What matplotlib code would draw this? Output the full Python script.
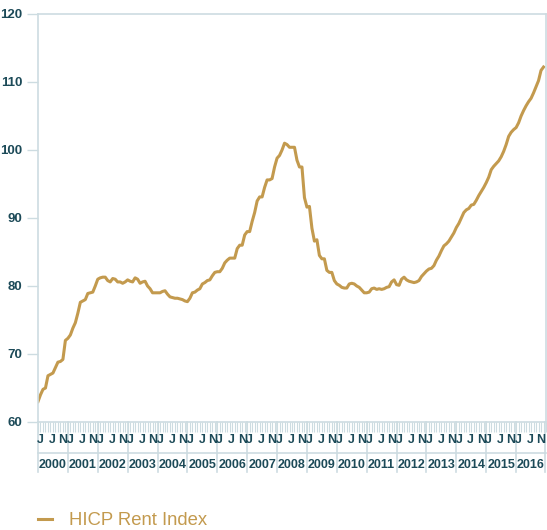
import numpy as np
import matplotlib.pyplot as plt
import matplotlib.transforms as mtransforms

plt.rcParams['font.family'] = ['Liberation Sans', 'DejaVu Sans']

years = list(range(2000, 2017))
month_letters = ['J', 'J', 'N']
month_letter_pos = [1.0, 5.8, 10.0]

# HICP rent index, monthly, Jan 2000 - Dec 2016
rent_2000 = [63.0, 64.0, 64.8, 65.0, 66.8, 67.0, 67.2, 68.0, 68.8, 68.9, 69.2, 72.0]
rent_2001 = [72.3, 72.8, 73.8, 74.6, 76.0, 77.6, 77.8, 78.0, 78.9, 79.0, 79.1, 80.0]
rent_2002 = [81.0, 81.2, 81.3, 81.3, 80.8, 80.6, 81.1, 81.0, 80.6, 80.6, 80.4, 80.6]
rent_2003 = [80.9, 80.7, 80.6, 81.2, 81.0, 80.4, 80.6, 80.7, 80.0, 79.6, 79.0, 79.0]
rent_2004 = [79.0, 79.0, 79.2, 79.3, 78.8, 78.4, 78.3, 78.2, 78.2, 78.1, 78.0, 77.8]
rent_2005 = [77.7, 78.2, 79.0, 79.1, 79.4, 79.6, 80.3, 80.5, 80.8, 80.9, 81.5, 82.0]
rent_2006 = [82.1, 82.1, 82.6, 83.4, 83.8, 84.1, 84.1, 84.1, 85.5, 86.0, 86.0, 87.5]
rent_2007 = [88.0, 88.0, 89.5, 90.8, 92.5, 93.1, 93.1, 94.5, 95.6, 95.6, 95.8, 97.5]
rent_2008 = [98.8, 99.2, 100.0, 101.0, 100.8, 100.4, 100.4, 100.4, 98.5, 97.5, 97.5, 93.0]
rent_2009 = [91.6, 91.7, 88.5, 86.6, 86.8, 84.5, 84.0, 84.0, 82.3, 82.0, 82.0, 80.8]
rent_2010 = [80.3, 80.1, 79.8, 79.7, 79.7, 80.3, 80.4, 80.3, 80.0, 79.8, 79.4, 79.0]
rent_2011 = [79.0, 79.1, 79.6, 79.7, 79.5, 79.6, 79.5, 79.6, 79.8, 79.9, 80.6, 80.9]
rent_2012 = [80.2, 80.1, 81.0, 81.3, 80.9, 80.7, 80.6, 80.5, 80.6, 80.8, 81.4, 81.8]
rent_2013 = [82.2, 82.5, 82.6, 83.0, 83.8, 84.4, 85.2, 85.9, 86.2, 86.6, 87.2, 87.8]
rent_2014 = [88.6, 89.2, 90.0, 90.8, 91.2, 91.4, 91.9, 92.0, 92.6, 93.3, 93.9, 94.5]
rent_2015 = [95.2, 96.0, 97.1, 97.6, 98.0, 98.4, 99.0, 99.8, 100.8, 102.0, 102.6, 103.0]
rent_2016 = [103.3, 104.0, 105.0, 105.8, 106.5, 107.1, 107.6, 108.4, 109.3, 110.2, 111.7, 112.2]

rent = (rent_2000 + rent_2001 + rent_2002 + rent_2003 + rent_2004 + rent_2005
        + rent_2006 + rent_2007 + rent_2008 + rent_2009 + rent_2010 + rent_2011
        + rent_2012 + rent_2013 + rent_2014 + rent_2015 + rent_2016)
months = np.arange(len(rent))
n_months = 12 * len(years)

gold = '#c39a4e'
frame = '#cddce1'
label_col = '#1c4a58'

fig = plt.figure(figsize=(5.47, 5.30), dpi=100)
ax = fig.add_axes([38 / 547, 1 - 422 / 530, 508 / 547, 408 / 530])

ax.plot(months, rent, color=gold, lw=2.2, solid_joinstyle='round', label='HICP Rent Index')

ax.set_xlim(0, n_months - 0.6)
ax.set_ylim(60, 120)
ax.set_yticks(range(60, 121, 10))
ax.tick_params(axis='y', length=8, width=1, color=frame, labelcolor=label_col,
               labelsize=9.5, pad=3)
for lab in ax.get_yticklabels():
    lab.set_fontweight('bold')

ax.set_xticks(np.arange(n_months + 1))
ax.set_xticklabels([])
ax.tick_params(axis='x', length=7, width=0.8, color=frame)

for s in ax.spines.values():
    s.set_color(frame)
    s.set_linewidth(1.2)

# lower band: month letters, year labels and separators
trans = mtransforms.blended_transform_factory(ax.transData, ax.transAxes)
band_mid = -31 / 408
band_bot = -50 / 408
ax.plot([0, n_months], [band_mid, band_mid], color=frame, lw=1.2,
        transform=trans, clip_on=False)
for k, yr in enumerate(years):
    x0 = 12 * k
    ax.plot([x0, x0], [0, band_bot], color=frame, lw=1.2, transform=trans, clip_on=False)
    for letter, off in zip(month_letters, month_letter_pos):
        ax.text(x0 + off, -18 / 408, letter, transform=trans, ha='center', va='center',
                fontsize=9, fontweight='bold', color=label_col)
    ax.text(x0 + 6, -43 / 408, str(yr), transform=trans, ha='center', va='center',
            fontsize=9, fontweight='bold', color=label_col)
ax.plot([n_months - 0.6, n_months - 0.6], [0, band_bot], color=frame, lw=1.2,
        transform=trans, clip_on=False)

leg = fig.legend(loc='lower left', bbox_to_anchor=(38 / 547, 1 / 530), frameon=False,
                 fontsize=13.3, handlelength=0.76, handletextpad=0.9,
                 borderpad=0, borderaxespad=0)
for t in leg.get_texts():
    t.set_color(gold)

fig.savefig('out.png', dpi=100)
